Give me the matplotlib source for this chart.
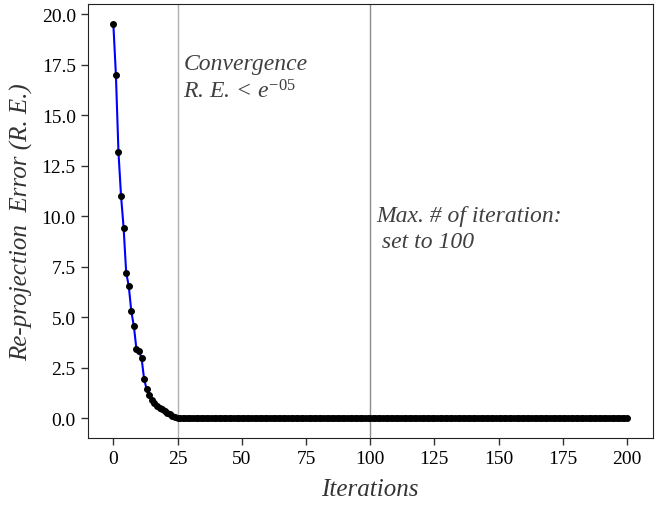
import matplotlib
matplotlib.use("Agg")
import matplotlib.pyplot as plt
import numpy as np

plt.rcParams['font.family'] = ['Liberation Serif', 'DejaVu Serif']
plt.rcParams['mathtext.fontset'] = 'custom'
plt.rcParams['mathtext.rm'] = 'Liberation Serif'
plt.rcParams['mathtext.it'] = 'Liberation Serif:italic'

# re-projection error per iteration
head_errors = [19.53, 17.01, 13.17, 11.01, 9.44, 7.22, 6.56, 5.30, 4.56, 3.42,
               3.32, 2.98, 1.93, 1.44, 1.14, 0.93, 0.78, 0.64, 0.53, 0.45,
               0.37, 0.28, 0.20, 0.13, 0.07, 0.01]
tail_errors = [0.0] * 175
errors = head_errors + tail_errors
iterations = list(range(len(errors)))

converge_iter = 25
max_iter = 100

fig = plt.figure(figsize=(6.64, 5.06), dpi=100)
ax = fig.add_axes([0.132, 0.132, 0.851, 0.858])

ax.axvline(converge_iter, color='#b0b0b0', lw=1.0, zorder=1)
ax.axvline(max_iter, color='#8c8c8c', lw=1.0, zorder=1)
ax.plot(iterations, errors, color='blue', lw=1.5, marker='o',
        markersize=4, markerfacecolor='black', markeredgecolor='black',
        zorder=3)

ax.text(27.3, 18.1, "Convergence\nR. E. < $e^{\\mathit{-05}}$",
        fontsize=17, style='italic', color='#404040', va='top', ha='left',
        linespacing=1.3)
ax.text(102.2, 10.55, "Max. # of iteration:\n set to 100",
        fontsize=17, style='italic', color='#404040', va='top', ha='left',
        linespacing=1.3)

ax.set_xlabel("Iterations", fontsize=18, style='italic', color='#333333',
              labelpad=8)
ax.set_ylabel("Re-projection  Error (R. E.)", fontsize=18, style='italic',
              color='#333333', labelpad=6)

ax.set_xticks(np.arange(0, 201, 25))
ax.set_yticks(np.arange(0, 20.1, 2.5))
ax.yaxis.set_major_formatter(matplotlib.ticker.FormatStrFormatter('%.1f'))
ax.tick_params(labelsize=14, direction='out', length=5, width=1,
               colors='#333333', labelcolor='black')
for s in ax.spines.values():
    s.set_color('#222222')

fig.savefig("out.png", dpi=100)
